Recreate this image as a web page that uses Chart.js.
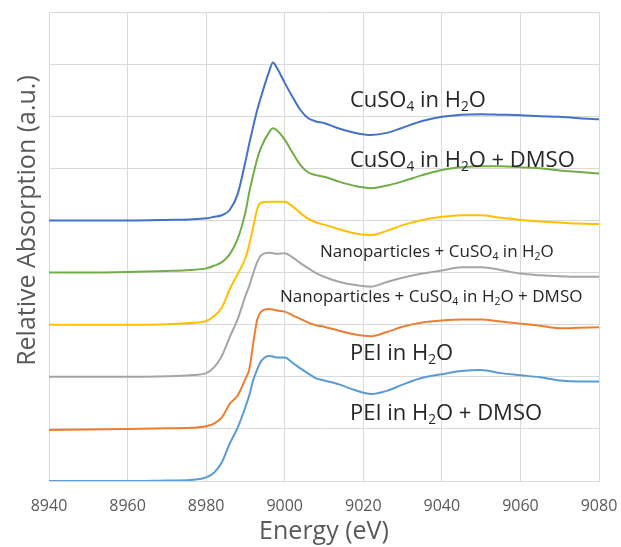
<!DOCTYPE html>
<html>
<head>
<meta charset="utf-8">
<title>Cu K-edge XANES</title>
<script src="https://cdn.jsdelivr.net/npm/chart.js@4.4.1/dist/chart.umd.min.js"></script>
<style>
  html, body { margin: 0; padding: 0; background: #fff; }
  #xanes { display: block; }
</style>
</head>
<body>
<canvas id="xanes" width="621" height="547"></canvas>
<script>
// ── Data (stacked with +1 offsets) ────────────────────────────
const energy = [8940, 8950, 8960, 8970, 8976, 8980, 8982, 8984, 8986, 8988,
                8990, 8991, 8992, 8993, 8994, 8996, 8997, 8998, 9000, 9002,
                9004, 9006, 9008, 9010, 9014, 9018, 9022, 9026, 9030, 9035,
                9040, 9045, 9050, 9055, 9060, 9065, 9070, 9075, 9080];

const cuso4Water = [5.00, 5.00, 5.00, 5.01, 5.02, 5.04, 5.07, 5.10, 5.20, 5.50,
                    6.13, 6.48, 6.81, 7.12, 7.38, 7.85, 8.03, 7.93, 7.64, 7.37,
                    7.12, 6.96, 6.90, 6.87, 6.76, 6.68, 6.64, 6.68, 6.78, 6.91,
                    6.99, 7.03, 7.04, 7.03, 7.02, 7.00, 6.99, 6.96, 6.94];

const cuso4Dmso  = [4.00, 4.00, 4.01, 4.03, 4.05, 4.08, 4.13, 4.20, 4.35, 4.64,
                    5.16, 5.55, 5.88, 6.18, 6.40, 6.69, 6.77, 6.73, 6.55, 6.30,
                    6.06, 5.92, 5.87, 5.84, 5.74, 5.66, 5.62, 5.67, 5.75, 5.87,
                    5.97, 6.02, 6.04, 6.04, 6.02, 6.00, 5.96, 5.93, 5.90];

const npWater    = [3.00, 3.00, 3.00, 3.01, 3.03, 3.07, 3.16, 3.33, 3.68, 3.97,
                    4.28, 4.55, 4.88, 5.22, 5.34, 5.36, 5.36, 5.36, 5.36, 5.27,
                    5.14, 5.03, 4.96, 4.92, 4.83, 4.75, 4.72, 4.80, 4.91, 5.01,
                    5.07, 5.10, 5.10, 5.05, 5.01, 4.98, 4.96, 4.94, 4.93];

const npDmso     = [2.00, 2.00, 2.00, 2.01, 2.03, 2.07, 2.18, 2.40, 2.76, 3.10,
                    3.55, 3.75, 3.99, 4.20, 4.33, 4.38, 4.37, 4.36, 4.37, 4.29,
                    4.18, 4.08, 3.99, 3.92, 3.82, 3.76, 3.73, 3.82, 3.90, 3.98,
                    4.04, 4.10, 4.10, 4.05, 3.98, 3.95, 3.93, 3.92, 3.92];

const peiWater   = [0.98, 0.99, 1.00, 1.01, 1.02, 1.05, 1.10, 1.22, 1.48, 1.64,
                    1.96, 2.15, 2.65, 3.10, 3.25, 3.30, 3.29, 3.27, 3.25, 3.18,
                    3.11, 3.04, 2.99, 2.96, 2.88, 2.81, 2.78, 2.86, 2.96, 3.04,
                    3.08, 3.10, 3.10, 3.06, 3.02, 2.98, 2.93, 2.94, 2.95];

const peiDmso    = [0.00, 0.00, 0.00, 0.01, 0.02, 0.07, 0.16, 0.36, 0.72, 1.02,
                    1.42, 1.65, 1.94, 2.14, 2.30, 2.40, 2.39, 2.37, 2.37, 2.27,
                    2.16, 2.06, 1.97, 1.93, 1.85, 1.74, 1.67, 1.73, 1.85, 1.98,
                    2.05, 2.11, 2.13, 2.07, 2.03, 1.99, 1.93, 1.91, 1.91];

const seriesNames  = ['CuSO4 in H2O', 'CuSO4 in H2O + DMSO',
                      'Nanoparticles + CuSO4 in H2O', 'Nanoparticles + CuSO4 in H2O + DMSO',
                      'PEI in H2O', 'PEI in H2O + DMSO'];
// in-plot captions; "_n" marks a subscript digit
const captionTexts = ['CuSO_4 in H_2O', 'CuSO_4 in H_2O + DMSO',
                      'Nanoparticles + CuSO_4 in H_2O', 'Nanoparticles + CuSO_4 in H_2O + DMSO',
                      'PEI in H_2O', 'PEI in H_2O + DMSO'];
const xTicks = [8940, 8960, 8980, 9000, 9020, 9040, 9060, 9080];

// ── Helpers ──────────────────────────────────────────────────
const COLORS = ['#4472C4', '#70AD47', '#FFC000', '#A5A5A5', '#ED7D31', '#5B9BD5'];
const FONT = '"Open Sans", "Noto Sans", sans-serif';
const AXIS_GREY = '#595959';

function toPoints(vals) {
  return energy.map((e, i) => ({ x: e, y: vals[i] }));
}

// caption anchors: [energy, value] of the left baseline, plus font size
const captionPos = [
  [9016.6, 7.18, 22], [9016.6, 6.03, 22],
  [9009.0, 4.30, 17], [8998.8, 3.44, 17],
  [9016.6, 2.32, 22], [9016.6, 1.17, 22]
];

function drawRich(ctx, text, x, y, size) {
  const parts = text.split(/(_\d)/).filter(p => p);
  let cx = x;
  parts.forEach(p => {
    const sub = p[0] === '_';
    const t = sub ? p.slice(1) : p;
    const fs = sub ? size * 0.62 : size;
    ctx.font = `${fs}px ${FONT}`;
    ctx.fillText(t, cx, sub ? y + size * 0.17 : y);
    cx += ctx.measureText(t).width;
  });
}

const captionPlugin = {
  id: 'captions',
  afterDatasetsDraw(chart) {
    const { ctx, scales: { x, y } } = chart;
    ctx.save();
    ctx.fillStyle = '#262626';
    ctx.textBaseline = 'alphabetic';
    ctx.textAlign = 'left';
    captionTexts.forEach((t, i) => {
      const [e, v, size] = captionPos[i];
      drawRich(ctx, t, x.getPixelForValue(e), y.getPixelForValue(v), size);
    });
    ctx.restore();
  }
};

// ── Chart ────────────────────────────────────────────────────
new Chart(document.getElementById('xanes'), {
  type: 'line',
  data: {
    datasets: seriesNames.map((name, i) => ({
      label: name,
      data: toPoints([cuso4Water, cuso4Dmso, npWater, npDmso, peiWater, peiDmso][i]),
      borderColor: COLORS[i],
      borderWidth: 2,
      pointRadius: 0,
      cubicInterpolationMode: 'monotone',
      fill: false
    }))
  },
  options: {
    responsive: false,
    animation: false,
    layout: { padding: { top: 12, right: 22, left: 0, bottom: 0 } },
    plugins: {
      legend: { display: false },
      tooltip: { enabled: false }
    },
    scales: {
      x: {
        type: 'linear',
        min: 8940,
        max: 9080,
        afterBuildTicks: s => { s.ticks = xTicks.map(v => ({ value: v })); },
        afterFit: s => { s.height = 66; s.paddingLeft = 0; s.paddingRight = 0; },
        ticks: {
          color: AXIS_GREY,
          font: { family: FONT, size: 16 },
          padding: 16,
          maxRotation: 0,
          callback: v => String(v)
        },
        grid: { color: '#d9d9d9', lineWidth: 1, drawTicks: false },
        border: { color: '#d9d9d9' },
        title: {
          display: true,
          text: 'Energy (eV)',
          color: AXIS_GREY,
          font: { family: FONT, size: 25 },
          padding: { top: 0, bottom: 0 }
        }
      },
      y: {
        min: 0,
        max: 9,
        afterFit: s => { s.width = 49; s.paddingTop = 0; s.paddingBottom = 0; },
        ticks: { display: false, stepSize: 1 },
        grid: { color: '#d9d9d9', lineWidth: 1, drawTicks: false },
        border: { color: '#d9d9d9' },
        title: {
          display: true,
          // leading spaces lift the caption above the axis centre, as in the figure
          text: '        Relative Absorption (a.u.)',
          color: AXIS_GREY,
          font: { family: FONT, size: 25 },
          padding: { top: 13, bottom: 0 }
        }
      }
    }
  },
  plugins: [captionPlugin]
});
</script>
</body>
</html>
